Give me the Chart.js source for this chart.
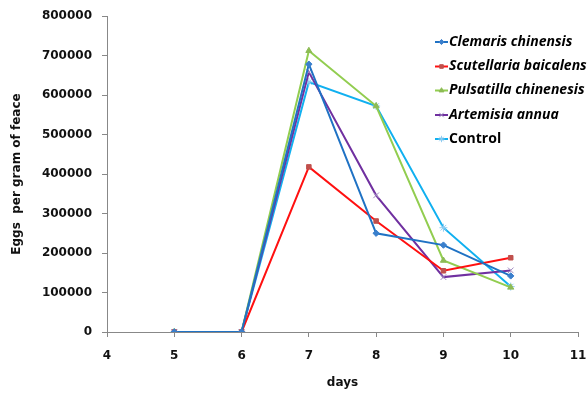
<!DOCTYPE html>
<html><head><meta charset="utf-8">
<script src="https://cdn.jsdelivr.net/npm/chart.js@4"></script>
<style>html,body{margin:0;padding:0;background:#fff;}#w{width:587px;height:394px;}</style>
</head><body><div id="w"><canvas id="c" width="587" height="394"></canvas></div>
<script>
const days = [5, 6, 7, 8, 9, 10];
const seriesNames = ["Clemaris chinensis", "Scutellaria baicalensis", "Pulsatilla chinenesis", "Artemisia annua", "Control"];
const clemaris = [0, 0, 678000, 250000, 220000, 142000];
const scutellaria = [0, 0, 418000, 281000, 155000, 188000];
const pulsatilla = [0, 0, 712000, 572000, 181000, 113000];
const artemisia = [0, 0, 658000, 346000, 139000, 156000];
const control = [0, 0, 633000, 572000, 264000, 115000];
const xTicks = [4, 5, 6, 7, 8, 9, 10, 11];
const yTicks = [0, 100000, 200000, 300000, 400000, 500000, 600000, 700000, 800000];

const styles = [
  {line: "#1F72C4", point: "#3A7FCC", shape: "rectRot", r: 3.2, italic: true},
  {line: "#FF1010", point: "#C0504D", shape: "rect", r: 3.2, italic: true},
  {line: "#92CD50", point: "#8DBB55", shape: "triangle", r: 3.5, italic: true},
  {line: "#7030A0", point: "#A08CC0", shape: "crossRot", r: 4, italic: true},
  {line: "#10B0F0", point: "#90CCF0", shape: "star", r: 4, italic: false}
];
const values = [clemaris, scutellaria, pulsatilla, artemisia, control];

const datasets = values.map((v, i) => ({
  label: seriesNames[i],
  data: days.map((d, j) => ({x: d, y: v[j]})),
  borderColor: styles[i].line,
  backgroundColor: styles[i].point,
  pointBorderColor: styles[i].point,
  pointBackgroundColor: styles[i].point,
  pointStyle: styles[i].shape,
  pointRadius: styles[i].r,
  pointBorderWidth: 1,
  borderWidth: 2,
  tension: 0
}));

const legendPlugin = {
  id: "customLegend",
  afterDraw(chart) {
    const ctx = chart.ctx;
    const ys = [42, 66.5, 90.5, 115, 139];
    chart.data.datasets.forEach((ds, i) => {
      const y = ys[i];
      ctx.save();
      ctx.strokeStyle = ds.borderColor;
      ctx.lineWidth = 2;
      ctx.beginPath(); ctx.moveTo(435, y); ctx.lineTo(448, y); ctx.stroke();
      ctx.fillStyle = ds.pointBackgroundColor; ctx.strokeStyle = ds.pointBorderColor; ctx.lineWidth = 1;
      Chart.helpers.drawPoint(ctx, {pointStyle: ds.pointStyle, radius: ds.pointRadius * 0.8, borderWidth: 1}, 441.5, y);
      ctx.fillStyle = "#000";
      ctx.font = (styles[i].italic ? "italic " : "") + "bold 14px 'Open Sans'";
      ctx.textBaseline = "middle";
      ctx.textAlign = "left";
      ctx.fillText(ds.label, 449, y);
      ctx.restore();
    });
  }
};

new Chart(document.getElementById("c"), {
  type: "line",
  data: {datasets},
  plugins: [legendPlugin],
  options: {
    responsive: false,
    animation: false,
    devicePixelRatio: 1,
    layout: {padding: {top: 16, right: 9, left: 0, bottom: 0}},
    plugins: {legend: {display: false}, tooltip: {enabled: false}},
    scales: {
      x: {
        type: "linear", min: 4, max: 11,
        afterBuildTicks: s => { s.ticks = xTicks.map(v => ({value: v})); },
        afterFit: s => { s.height = 62; s.paddingRight = 0; s.paddingLeft = 0; },
        border: {color: "#888", width: 1},
        grid: {display: true, drawOnChartArea: false, drawTicks: true, tickLength: 5, color: "#888"},
        ticks: {color: "#111", font: {family: "DejaVu Sans", size: 12, weight: "bold"}, padding: 12},
        title: {display: true, text: "days", color: "#111", font: {family: "DejaVu Sans", size: 12, weight: "bold"}, padding: {top: 4}}
      },
      y: {
        min: 0, max: 800000,
        afterBuildTicks: s => { s.ticks = yTicks.map(v => ({value: v})); },
        afterFit: s => { s.width = 107; s.paddingTop = 0; s.paddingBottom = 0; },
        border: {color: "#888", width: 1},
        grid: {display: true, drawOnChartArea: false, drawTicks: true, tickLength: 5, color: "#888"},
        ticks: {color: "#111", font: {family: "DejaVu Sans", size: 12, weight: "bold"}, padding: 10, callback: v => String(v)},
        title: {display: true, text: "Eggs  per gram of feace", color: "#111", font: {family: "DejaVu Sans", size: 12, weight: "bold"}, padding: {top: 10, bottom: 4}}
      }
    }
  }
});
</script></body></html>
